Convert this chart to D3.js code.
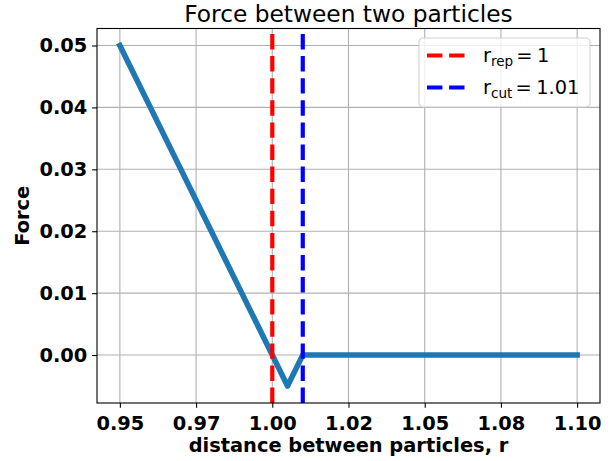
<!DOCTYPE html>
<html>
<head>
<meta charset="utf-8">
<script src="https://cdn.jsdelivr.net/npm/d3@7"></script>
<style>
  html, body { margin: 0; padding: 0; background: #fff; }
  svg { display: block; }
  text { font-family: "DejaVu Sans", sans-serif; }
</style>
</head>
<body>
<script>
// Piecewise-linear force between two particles
const distance = [0.95, 1.00, 1.005, 1.01, 1.10];
const force = [0.05, 0.00, -0.005, 0.00, 0.00];

// Reference radii shown as vertical dashed lines
const rRep = 1.00;
const rCut = 1.01;

// Axis ticks
const xTicks = [0.95, 0.975, 1.00, 1.025, 1.05, 1.075, 1.10];
const xTickLabels = ["0.95", "0.97", "1.00", "1.02", "1.05", "1.08", "1.10"];
const yTicks = [0.00, 0.01, 0.02, 0.03, 0.04, 0.05];
const yTickLabels = ["0.00", "0.01", "0.02", "0.03", "0.04", "0.05"];

const W = 615, H = 461;
const margin = { left: 97, right: 15, top: 28.5, bottom: 58 };
const pw = W - margin.left - margin.right;
const ph = H - margin.top - margin.bottom;

const FS = 19.4;        // base font size
const TICK = 4.86;      // tick length

const svg = d3.select("body").append("svg").attr("width", W).attr("height", H);
const g = svg.append("g").attr("transform", `translate(${margin.left},${margin.top})`);

// 5% padding around the data extent on both axes
const xr = d3.extent(distance), yr = d3.extent(force);
const xPad = (xr[1] - xr[0]) * 0.05, yPad = (yr[1] - yr[0]) * 0.05;
const x = d3.scaleLinear().domain([xr[0] - xPad, xr[1] + xPad]).range([0, pw]);
const y = d3.scaleLinear().domain([yr[0] - yPad, yr[1] + yPad]).range([ph, 0]);

// Grid
g.append("g").selectAll("line").data(xTicks).join("line")
  .attr("x1", d => x(d)).attr("x2", d => x(d)).attr("y1", 0).attr("y2", ph)
  .attr("stroke", "#b0b0b0").attr("stroke-width", 1.1);
g.append("g").selectAll("line").data(yTicks).join("line")
  .attr("y1", d => y(d)).attr("y2", d => y(d)).attr("x1", 0).attr("x2", pw)
  .attr("stroke", "#b0b0b0").attr("stroke-width", 1.1);

// Force curve
const line = d3.line().x((d, i) => x(distance[i])).y(d => y(d));
g.append("path").datum(force)
  .attr("d", line)
  .attr("fill", "none")
  .attr("stroke", "#1f77b4")
  .attr("stroke-width", 5.56)
  .attr("stroke-linejoin", "round")
  .attr("stroke-linecap", "square");

// Vertical reference lines (dash pattern starts at the bottom)
const dash = "15.4,6.7";
g.append("line")
  .attr("x1", x(rRep)).attr("x2", x(rRep)).attr("y1", ph).attr("y2", 0)
  .attr("stroke", "red").attr("stroke-width", 4.17).attr("stroke-dasharray", dash);
g.append("line")
  .attr("x1", x(rCut)).attr("x2", x(rCut)).attr("y1", ph).attr("y2", 0)
  .attr("stroke", "blue").attr("stroke-width", 4.17).attr("stroke-dasharray", dash);

// Axes
const xAxis = d3.axisBottom(x).tickValues(xTicks)
  .tickFormat((d, i) => xTickLabels[i]).tickSizeInner(TICK).tickSizeOuter(0).tickPadding(8.3);
const yAxis = d3.axisLeft(y).tickValues(yTicks)
  .tickFormat((d, i) => yTickLabels[i]).tickSizeInner(TICK).tickSizeOuter(0).tickPadding(TICK);

const gx = g.append("g").attr("transform", `translate(0,${ph})`).call(xAxis);
const gy = g.append("g").call(yAxis);
[gx, gy].forEach(a => {
  a.select(".domain").remove();
  a.selectAll(".tick line").attr("stroke", "#000").attr("stroke-width", 1.1);
  a.selectAll(".tick text")
    .attr("fill", "#000")
    .style("font-family", "'DejaVu Sans', sans-serif")
    .style("font-size", FS + "px")
    .style("font-weight", "bold");
});

// Spines
g.append("rect").attr("x", 0).attr("y", 0).attr("width", pw).attr("height", ph)
  .attr("fill", "none").attr("stroke", "#000").attr("stroke-width", 1.1);

// Title and axis labels
svg.append("text").attr("x", margin.left + pw / 2).attr("y", 22)
  .attr("text-anchor", "middle").style("font-size", "23.3px")
  .text("Force between two particles");
svg.append("text").attr("x", margin.left + pw / 2).attr("y", 452)
  .attr("text-anchor", "middle").style("font-size", FS + "px").style("font-weight", "bold")
  .text("distance between particles, r");
svg.append("text")
  .attr("transform", `translate(28.5,${margin.top + ph / 2}) rotate(-90)`)
  .attr("text-anchor", "middle").style("font-size", FS + "px").style("font-weight", "bold")
  .text("Force");

// Legend
const legendItems = [
  { color: "red", sub: "rep", value: "1" },
  { color: "blue", sub: "cut", value: "1.01" }
];
const lg = svg.append("g").attr("transform", "translate(419,38)");
lg.append("rect").attr("x", 0).attr("y", 0).attr("width", 171).attr("height", 69)
  .attr("rx", 4).attr("ry", 4)
  .attr("fill", "#fff").attr("fill-opacity", 0.8)
  .attr("stroke", "#d0d0d0").attr("stroke-width", 1.1);
legendItems.forEach((it, i) => {
  const cy = 17.5 + i * 32;
  lg.append("line").attr("x1", 8).attr("x2", 47).attr("y1", cy).attr("y2", cy)
    .attr("stroke", it.color).attr("stroke-width", 4.17).attr("stroke-dasharray", dash);
  const base = cy + 6.5;
  // r with a subscript, then "= value" as in math typesetting
  const r = lg.append("text").attr("x", 64).attr("y", base).style("font-size", FS + "px").text("r");
  const rEnd = 64 + r.node().getComputedTextLength();
  const sub = lg.append("text").attr("x", rEnd).attr("y", base + 4)
    .style("font-size", (FS * 0.7) + "px").text(it.sub);
  const subEnd = rEnd + sub.node().getComputedTextLength();
  const eq = lg.append("text").attr("x", subEnd + 3).attr("y", base).style("font-size", FS + "px").text("=");
  const eqEnd = subEnd + 3 + eq.node().getComputedTextLength();
  lg.append("text").attr("x", eqEnd + 4.5).attr("y", base).style("font-size", FS + "px").text(it.value);
});
</script>
</body>
</html>
